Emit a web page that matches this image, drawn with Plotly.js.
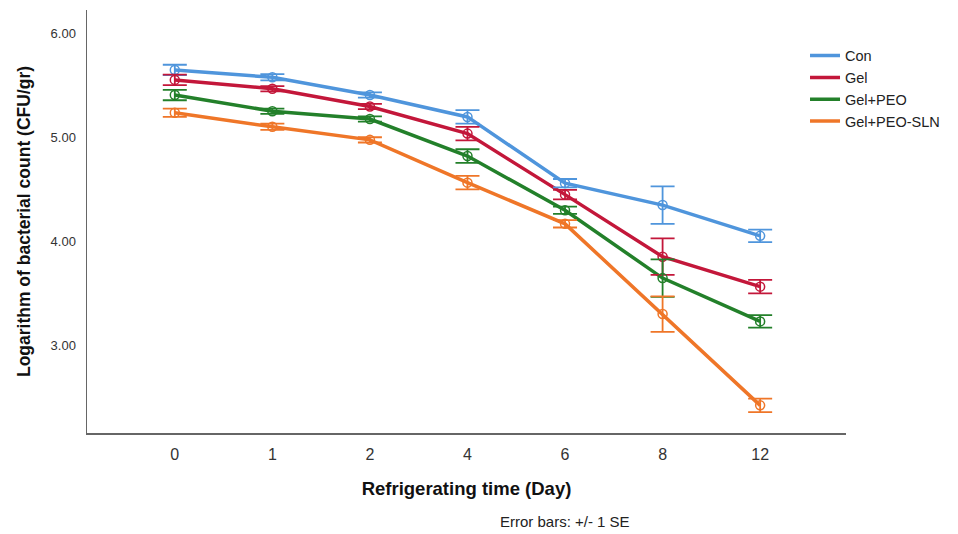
<!DOCTYPE html>
<html>
<head>
<meta charset="utf-8">
<script src="https://cdn.plot.ly/plotly-3.0.1.min.js"></script>
<style>html,body{margin:0;padding:0;background:#fff;}#chart{width:958px;height:534px;}</style>
</head>
<body>
<div id="chart"></div>
<script>
const days = ["0", "1", "2", "4", "6", "8", "12"];
const seriesNames = ["Con", "Gel", "Gel+PEO", "Gel+PEO-SLN"];
const conMean = [5.645, 5.575, 5.405, 5.195, 4.56, 4.35, 4.055];
const conSE   = [0.05, 0.03, 0.025, 0.065, 0.04, 0.18, 0.06];
const gelMean = [5.55, 5.465, 5.295, 5.035, 4.45, 3.855, 3.568];
const gelSE   = [0.05, 0.025, 0.025, 0.065, 0.045, 0.175, 0.064];
const peoMean = [5.405, 5.25, 5.175, 4.82, 4.30, 3.65, 3.235];
const peoSE   = [0.05, 0.025, 0.025, 0.065, 0.035, 0.18, 0.06];
const slnMean = [5.235, 5.10, 4.975, 4.565, 4.17, 3.305, 2.43];
const slnSE   = [0.04, 0.03, 0.025, 0.065, 0.035, 0.17, 0.065];
const colors = ["#4f95dc", "#c3173a", "#23802a", "#ef7628"];

const means = [conMean, gelMean, peoMean, slnMean];
const ses = [conSE, gelSE, peoSE, slnSE];

const traces = [];
for (let i = 0; i < seriesNames.length; i++) {
  traces.push({
    x: days, y: means[i], name: seriesNames[i], type: "scatter", mode: "lines",
    line: {color: colors[i], width: 3.5}, showlegend: true, hoverinfo: "skip"
  });
}
for (let i = 0; i < seriesNames.length; i++) {
  traces.push({
    x: days, y: means[i], name: seriesNames[i], type: "scatter", mode: "markers",
    marker: {symbol: "circle-open", size: 9, color: colors[i], line: {width: 1.5, color: colors[i]}},
    error_y: {type: "data", array: ses[i], visible: true, color: colors[i], thickness: 1.8, width: 12},
    showlegend: false
  });
}

const layout = {
  width: 958, height: 534,
  margin: {l: 87, r: 112, t: 10, b: 101},
  paper_bgcolor: "#fff", plot_bgcolor: "#fff",
  font: {family: "Arial, Liberation Sans, sans-serif", color: "#222"},
  showlegend: true,
  legend: {x: 0.946, y: 0.93, xanchor: "left", yanchor: "top", font: {size: 14.5, color: "#222"},
           itemwidth: 30, tracegroupgap: 0, bgcolor: "rgba(0,0,0,0)"},
  xaxis: {
    type: "category", range: [-0.9, 6.88], showgrid: false, zeroline: false,
    showline: true, linecolor: "#666", linewidth: 1.5, mirror: false,
    ticks: "", tickfont: {size: 16, color: "#333"}, ticklabelstandoff: 6,
    title: {text: "<b>Refrigerating time (Day)</b>", font: {size: 18.5, color: "#111"}, standoff: 20}
  },
  yaxis: {
    range: [2.165, 6.22], showgrid: false, zeroline: false,
    showline: true, linecolor: "#666", linewidth: 1.5,
    tickvals: [3, 4, 5, 6], ticktext: ["3.00", "4.00", "5.00", "6.00"],
    ticks: "", tickfont: {size: 13, color: "#333"}, ticklabelstandoff: 7,
    title: {text: "<b>Logarithm of bacterial count (CFU/gr)</b>", font: {size: 17.5, color: "#111"}, standoff: 15}
  },
  annotations: [{
    text: "Error bars: +/- 1 SE", xref: "paper", yref: "paper",
    x: (565 - 87) / 759, y: -(521 - 433) / 423, xanchor: "center", yanchor: "middle",
    showarrow: false, font: {size: 15, color: "#222"}
  }]
};

Plotly.newPlot("chart", traces, layout, {displayModeBar: false, staticPlot: true});
</script>
</body>
</html>
